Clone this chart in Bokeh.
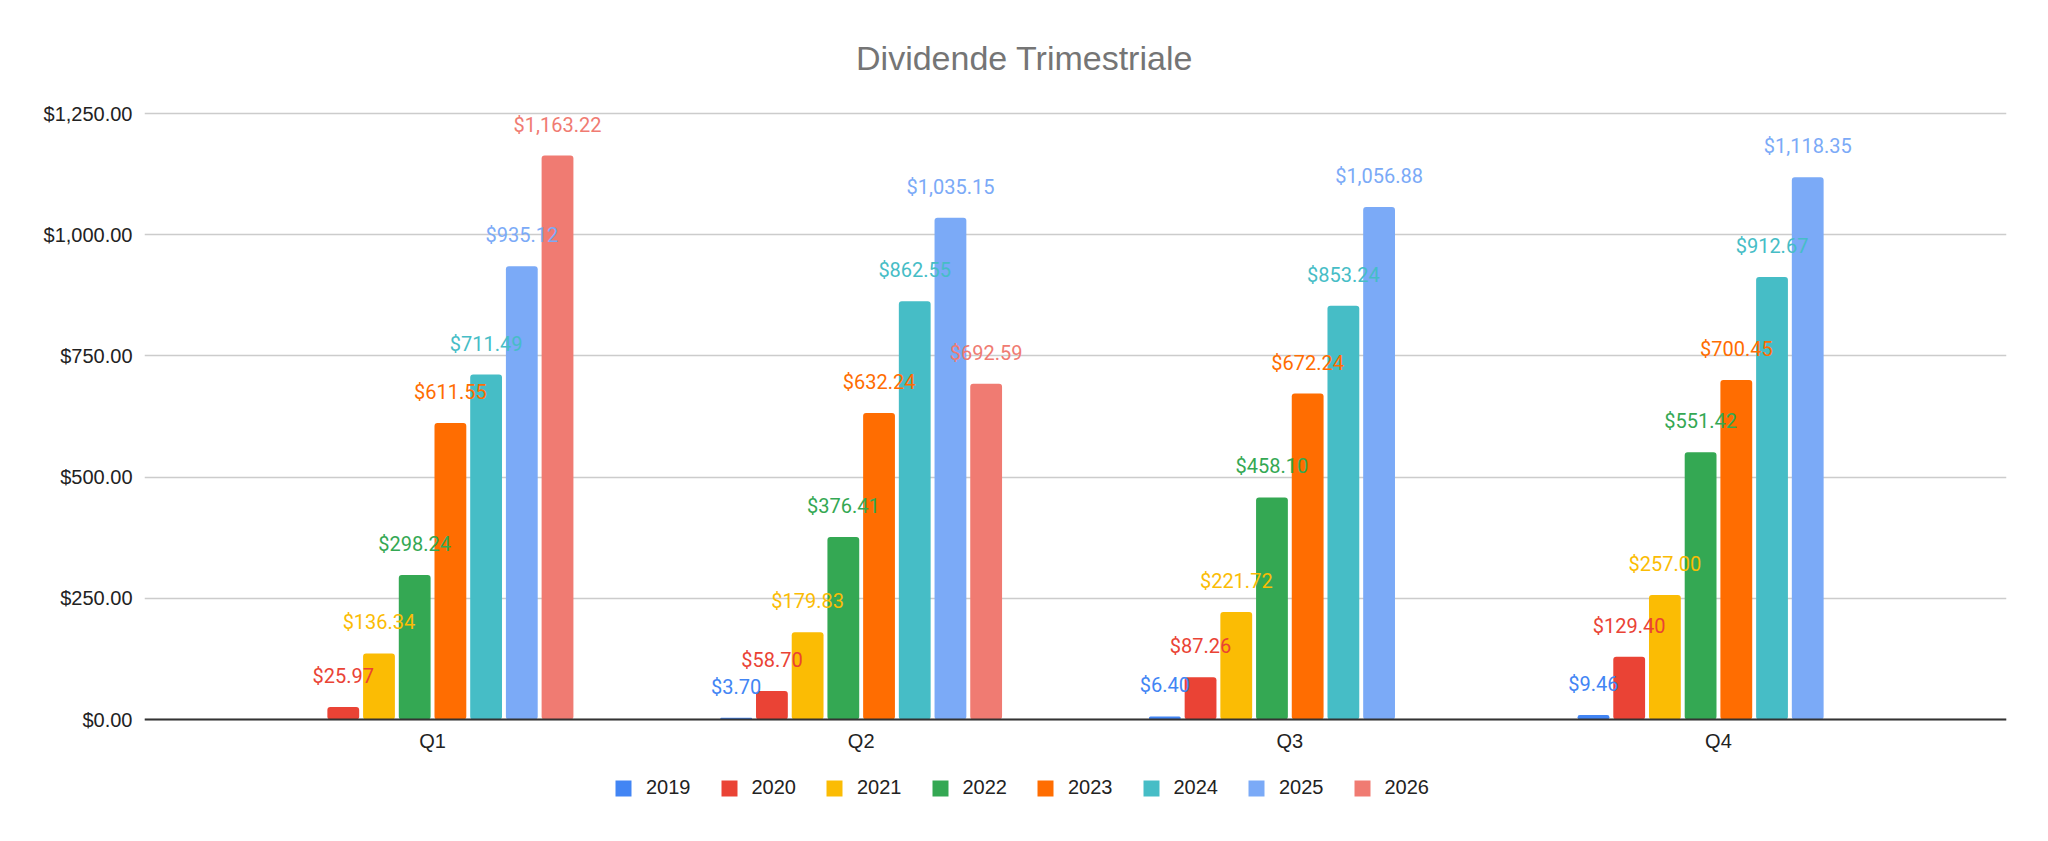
from bokeh.plotting import figure
from bokeh.models import (ColumnDataSource, Range1d, FixedTicker, NumeralTickFormatter,
                          Legend, LegendItem, Label)
from bokeh.transform import dodge
from bokeh.core.properties import value
from bokeh.embed import file_html
from bokeh.resources import INLINE

# ---- data ----
quarters = ["Q1", "Q2", "Q3", "Q4"]
years = ["2019", "2020", "2021", "2022", "2023", "2024", "2025", "2026"]
v2019 = [None, 3.70, 6.40, 9.46]
v2020 = [25.97, 58.70, 87.26, 129.40]
v2021 = [136.34, 179.83, 221.72, 257.00]
v2022 = [298.24, 376.41, 458.10, 551.42]
v2023 = [611.55, 632.24, 672.24, 700.45]
v2024 = [711.49, 862.55, 853.24, 912.67]
v2025 = [935.12, 1035.15, 1056.88, 1118.35]
v2026 = [1163.22, 692.59, None, None]
series = [v2019, v2020, v2021, v2022, v2023, v2024, v2025, v2026]
colors = ["#4285F4", "#EA4335", "#FBBC04", "#34A853", "#FF6D01", "#46BDC6", "#7BAAF7", "#F07B72"]
y_ticks = [0, 250, 500, 750, 1000, 1250]
title_text = "Dividende Trimestriale"

AX_FONT = "Liberation Sans"
LBL_FONT = "Roboto"

W, H = 2048, 841
FL, FR = 144, 42          # frame left / right border
ZERO_PX, TOP_PX = 719, 113  # page y of value 0 and of value 1250
upp = 1250.0 / (ZERO_PX - TOP_PX)
y_start = -(H - ZERO_PX) * upp
y_end = 1250 + TOP_PX * upp

p = figure(width=W, height=H,
           x_range=Range1d(-0.172, 4.172), y_range=Range1d(y_start, y_end),
           output_backend="svg", toolbar_location=None,
           min_border_left=FL, min_border_right=FR,
           min_border_top=0, min_border_bottom=0)
p.outline_line_color = None
p.background_fill_color = "white"
p.border_fill_color = "white"

# grid
p.xgrid.visible = False
p.ygrid.ticker = FixedTicker(ticks=y_ticks)
p.ygrid.grid_line_color = "#cccccc"
p.ygrid.grid_line_width = 1.5

# y axis
p.yaxis.ticker = FixedTicker(ticks=y_ticks)
p.yaxis.formatter = NumeralTickFormatter(format="$0,0.00")
p.yaxis.axis_line_color = None
p.yaxis.major_tick_line_color = None
p.yaxis.major_tick_out = 0
p.yaxis.major_tick_in = 0
p.yaxis.minor_tick_line_color = None
p.yaxis.major_label_standoff = 12
p.yaxis.major_label_text_font = AX_FONT
p.yaxis.major_label_text_font_size = "20px"
p.yaxis.major_label_text_color = "#222222"

# x axis, sitting on the zero line
xt = [i + 0.5 for i in range(len(quarters))]
p.xaxis.ticker = FixedTicker(ticks=xt)
p.xaxis.major_label_overrides = {t: q for t, q in zip(xt, quarters)}
p.xaxis.fixed_location = 0
p.xaxis.axis_line_color = "#333333"
p.xaxis.axis_line_width = 2
p.xaxis.major_tick_line_color = None
p.xaxis.major_tick_out = 0
p.xaxis.major_tick_in = 0
p.xaxis.minor_tick_line_color = None
p.xaxis.major_label_standoff = 10
p.xaxis.major_label_text_font = AX_FONT
p.xaxis.major_label_text_font_size = "20px"
p.xaxis.major_label_text_color = "#222222"

pitch = 0.0833
bar_w = 0.0742
n = len(years)
items = []
sources = []
for j, (yr, vals, col) in enumerate(zip(years, series, colors)):
    xs = [xt[i] for i, v in enumerate(vals) if v is not None]
    ys = [v for v in vals if v is not None]
    labels = ["${:,.2f}".format(v) for v in ys]
    src = ColumnDataSource(dict(x=xs, top=ys, label=labels))
    off = (j - (n - 1) / 2) * pitch
    sources.append((src, off, col))
    r = p.vbar(x=dodge("x", off), top="top", bottom=0, width=bar_w, source=src,
               fill_color=col, line_color=None, border_radius=3)
    items.append(LegendItem(label=yr, renderers=[r]))

for src, off, col in sources:
    p.text(x=dodge("x", off), y="top", text="label", source=src,
           text_color=col, text_font=value(LBL_FONT), text_font_size="20px",
           text_align="center", text_baseline="middle", y_offset=-31)

legend = Legend(items=items, orientation="horizontal", location=(469, H - 779 - 20),
                glyph_width=20, glyph_height=20, label_standoff=13, spacing=28,
                padding=0, margin=0, border_line_color=None, background_fill_alpha=0,
                label_text_font=AX_FONT, label_text_font_size="20px",
                label_text_color="#222222", label_height=20)
p.add_layout(legend, "center")

title = Label(x=1024 - FL, y=H - 57, x_units="screen", y_units="screen", text=title_text,
              text_align="center", text_baseline="middle",
              text_font=AX_FONT, text_font_size="34px", text_color="#757575")
p.add_layout(title)

open("out.html", "w").write(file_html(p, INLINE))
